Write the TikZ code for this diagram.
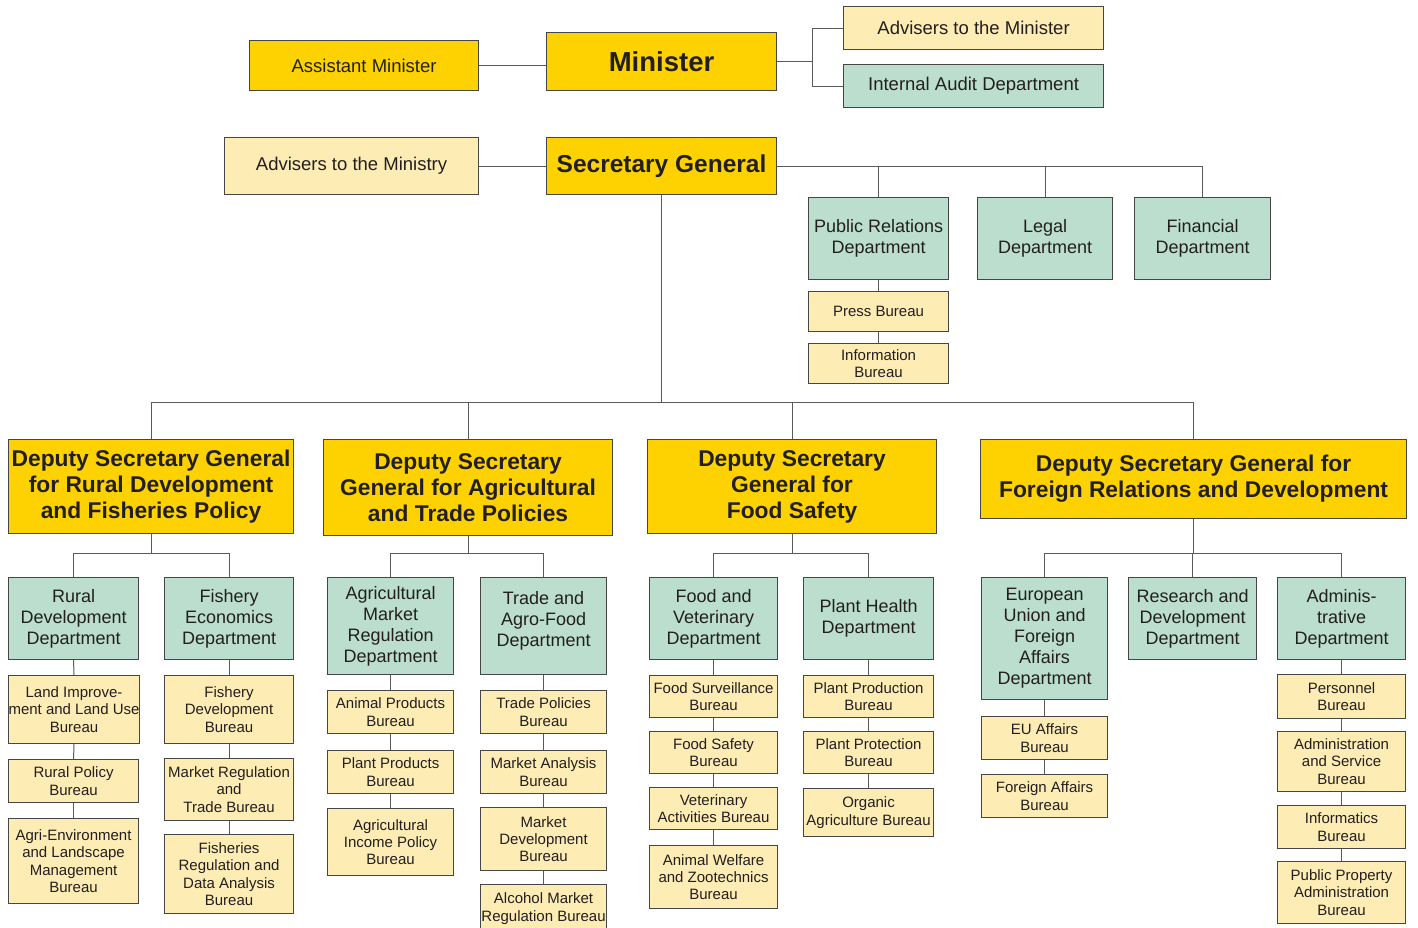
\documentclass[tikz,border=0pt]{standalone}
\usepackage{fontspec}
\setmainfont{Liberation Sans}
\definecolor{ylw}{RGB}{253,210,0}
\definecolor{lyl}{RGB}{253,236,180}
\definecolor{grn}{RGB}{187,222,206}
\definecolor{bord}{RGB}{70,70,70}
\definecolor{txt}{RGB}{35,31,32}
\definecolor{lnk}{RGB}{90,90,90}
\tikzset{
 base/.style={draw=bord, line width=1.1pt, inner sep=0pt, align=center, text=txt, anchor=north west},
 ybox/.style={base, fill=ylw},
 lbox/.style={base, fill=lyl},
 gbox/.style={base, fill=grn},
 topf/.style={font=\fontsize{18.5}{22}\selectfont},
 bigf/.style={font=\bfseries\fontsize{27.5}{32}\selectfont},
 sgf/.style={font=\bfseries\fontsize{24.5}{28}\selectfont},
 dsgf/.style={font=\bfseries\fontsize{22.8}{26}\selectfont},
 deptf/.style={font=\fontsize{18}{21}\selectfont},
 burf/.style={font=\fontsize{15}{17.3}\selectfont},
 link/.style={draw=lnk, line width=1pt},
}
\newcommand\bx[7]{\node[#6, minimum width={#4-#2}, minimum height={#5-#3}] (#1) at (#2,#3) {#7};}
\begin{document}
\begin{tikzpicture}[x=1pt,y=-1pt]
\useasboundingbox[fill=white] (0,0) rectangle (1418,927);
% top
\bx{am}{249}{40}{478}{90}{ybox,topf}{Assistant Minister}
\bx{min}{546}{32}{776}{90}{ybox,bigf}{Minister}
\bx{adm}{843}{6}{1103}{49}{lbox,topf}{Advisers to the Minister}
\bx{iad}{843}{64}{1103}{107}{gbox,topf}{Internal Audit Department}
\bx{ams}{224}{137}{478}{194}{lbox,topf}{Advisers to the Ministry}
\bx{sg}{546}{137}{776}{194}{ybox,sgf}{Secretary General}
\bx{pr}{808}{197}{948}{279}{gbox,deptf}{Public Relations\\Department}
\bx{leg}{977}{197}{1112}{279}{gbox,deptf}{Legal\\Department}
\bx{fin}{1134}{197}{1270}{279}{gbox,deptf}{Financial\\Department}
\bx{press}{808}{291}{948}{331}{lbox,burf}{Press Bureau}
\bx{info}{808}{343}{948}{383}{lbox,burf}{Information\\Bureau}
% deputies
\bx{d1}{8}{439}{293}{533}{ybox,dsgf}{Deputy Secretary General\\for Rural Development\\and Fisheries Policy}
\bx{d2}{323}{439}{612}{535}{ybox,dsgf}{Deputy Secretary\\General for Agricultural\\and Trade Policies}
\bx{d3}{647}{439}{936}{533}{ybox,dsgf}{Deputy Secretary\\General for\\Food Safety}
\bx{d4}{980}{439}{1406}{518}{ybox,dsgf}{Deputy Secretary General for\\Foreign Relations and Development}
% column 1
\bx{rd}{8}{577}{138}{659}{gbox,deptf}{Rural\\Development\\Department}
\bx{c1a}{8}{675}{138}{743}{lbox,burf}{Land Improve-\\ment and Land Use\\Bureau}
\bx{c1b}{8}{759}{138}{802}{lbox,burf}{Rural Policy\\Bureau}
\bx{c1c}{8}{818}{138}{903}{lbox,burf}{Agri-Environment\\and Landscape\\Management\\Bureau}
% column 2
\bx{fe}{164}{577}{293}{659}{gbox,deptf}{Fishery\\Economics\\Department}
\bx{c2a}{164}{675}{293}{743}{lbox,burf}{Fishery\\Development\\Bureau}
\bx{c2b}{164}{758}{293}{820}{lbox,burf}{Market Regulation\\and\\Trade Bureau}
\bx{c2c}{164}{834}{293}{913}{lbox,burf}{Fisheries\\Regulation and\\Data Analysis\\Bureau}
% column 3
\bx{amr}{327}{577}{453}{674}{gbox,deptf}{Agricultural\\Market\\Regulation\\Department}
\bx{c3a}{327}{690}{453}{733}{lbox,burf}{Animal Products\\Bureau}
\bx{c3b}{327}{750}{453}{793}{lbox,burf}{Plant Products\\Bureau}
\bx{c3c}{327}{808}{453}{875}{lbox,burf}{Agricultural\\Income Policy\\Bureau}
% column 4
\bx{taf}{480}{577}{606}{674}{gbox,deptf}{Trade and\\Agro-Food\\Department\\[-6pt]}
\bx{c4a}{480}{690}{606}{733}{lbox,burf}{Trade Policies\\Bureau}
\bx{c4b}{480}{750}{606}{793}{lbox,burf}{Market Analysis\\Bureau}
\bx{c4c}{480}{807}{606}{870}{lbox,burf}{Market\\Development\\Bureau}
\bx{c4d}{480}{884}{606}{932}{lbox,burf}{Alcohol Market\\Regulation Bureau}
% column 5
\bx{fv}{649}{577}{777}{659}{gbox,deptf}{Food and\\Veterinary\\Department}
\bx{c5a}{649}{675}{777}{717}{lbox,burf}{Food Surveillance\\Bureau}
\bx{c5b}{649}{731}{777}{773}{lbox,burf}{Food Safety\\Bureau}
\bx{c5c}{649}{787}{777}{829}{lbox,burf}{Veterinary\\Activities Bureau}
\bx{c5d}{649}{845}{777}{908}{lbox,burf}{Animal Welfare\\and Zootechnics\\Bureau}
% column 6
\bx{ph}{803}{577}{933}{659}{gbox,deptf}{Plant Health\\Department}
\bx{c6a}{803}{675}{933}{717}{lbox,burf}{Plant Production\\Bureau}
\bx{c6b}{803}{731}{933}{773}{lbox,burf}{Plant Protection\\Bureau}
\bx{c6c}{803}{788}{933}{836}{lbox,burf}{Organic\\Agriculture Bureau}
% column 7
\bx{eu}{981}{577}{1107}{699}{gbox,deptf}{European\\Union and\\Foreign\\Affairs\\Department}
\bx{c7a}{981}{716}{1107}{759}{lbox,burf}{EU Affairs\\Bureau}
\bx{c7b}{981}{774}{1107}{817}{lbox,burf}{Foreign Affairs\\Bureau}
% column 8
\bx{rnd}{1128}{577}{1256}{659}{gbox,deptf}{Research and\\Development\\Department}
% column 9
\bx{adp}{1277}{577}{1405}{659}{gbox,deptf}{Adminis-\\trative\\Department}
\bx{c9a}{1277}{674}{1405}{718}{lbox,burf}{Personnel\\Bureau}
\bx{c9b}{1277}{731}{1405}{791}{lbox,burf}{Administration\\and Service\\Bureau}
\bx{c9c}{1277}{805}{1405}{848}{lbox,burf}{Informatics\\Bureau}
\bx{c9d}{1277}{861}{1405}{923}{lbox,burf}{Public Property\\Administration\\Bureau}
% connectors top
\coordinate (mj) at (812,62);
\draw[link] (am.east) -- (am.east -| min.west);
\draw[link] (min.east) -- (min.east -| mj);
\draw[link] (adm.west) -- (adm.west -| mj) -- (iad.west -| mj) -- (iad.west);
\draw[link] (ams.east) -- (sg.west);
\draw[link] (sg.east) -- (sg.east -| fin.north) -- (fin.north);
\draw[link] (pr.north) -- (pr.north |- sg.east);
\draw[link] (leg.north) -- (leg.north |- sg.east);
\draw[link] (pr.south) -- (press.north);
\draw[link] (press.south) -- (info.north);
% deputies bus
\coordinate (bus) at (0,402);
\draw[link] (sg.south) -- (sg.south |- bus);
\draw[link] (d1.north) -- (d1.north |- bus) -- (d4.north |- bus) -- (d4.north);
\draw[link] (d2.north) -- (d2.north |- bus);
\draw[link] (d3.north) -- (d3.north |- bus);
% sub buses
\coordinate (sb) at (0,553);
\draw[link] (d1.south) -- (d1.south |- sb);
\draw[link] (rd.north) -- (rd.north |- sb) -- (fe.north |- sb) -- (fe.north);
\draw[link] (d2.south) -- (d2.south |- sb);
\draw[link] (amr.north) -- (amr.north |- sb) -- (taf.north |- sb) -- (taf.north);
\draw[link] (d3.south) -- (d3.south |- sb);
\draw[link] (fv.north) -- (fv.north |- sb) -- (ph.north |- sb) -- (ph.north);
\draw[link] (d4.south) -- (d4.south |- sb);
\draw[link] (eu.north) -- (eu.north |- sb) -- (adp.north |- sb) -- (adp.north);
\draw[link] (rnd.north) -- (rnd.north |- sb);
% chains
\draw[link] (rd.south) -- (c1a.north);
\draw[link] (c1a.south) -- (c1b.north);
\draw[link] (c1b.south) -- (c1c.north);
\draw[link] (fe.south) -- (c2a.north);
\draw[link] (c2a.south) -- (c2b.north);
\draw[link] (c2b.south) -- (c2c.north);
\draw[link] (amr.south) -- (c3a.north);
\draw[link] (c3a.south) -- (c3b.north);
\draw[link] (c3b.south) -- (c3c.north);
\draw[link] (taf.south) -- (c4a.north);
\draw[link] (c4a.south) -- (c4b.north);
\draw[link] (c4b.south) -- (c4c.north);
\draw[link] (c4c.south) -- (c4d.north);
\draw[link] (fv.south) -- (c5a.north);
\draw[link] (c5a.south) -- (c5b.north);
\draw[link] (c5b.south) -- (c5c.north);
\draw[link] (c5c.south) -- (c5d.north);
\draw[link] (ph.south) -- (c6a.north);
\draw[link] (c6a.south) -- (c6b.north);
\draw[link] (c6b.south) -- (c6c.north);
\draw[link] (eu.south) -- (c7a.north);
\draw[link] (c7a.south) -- (c7b.north);
\draw[link] (adp.south) -- (c9a.north);
\draw[link] (c9a.south) -- (c9b.north);
\draw[link] (c9b.south) -- (c9c.north);
\draw[link] (c9c.south) -- (c9d.north);
\end{tikzpicture}
\end{document}
